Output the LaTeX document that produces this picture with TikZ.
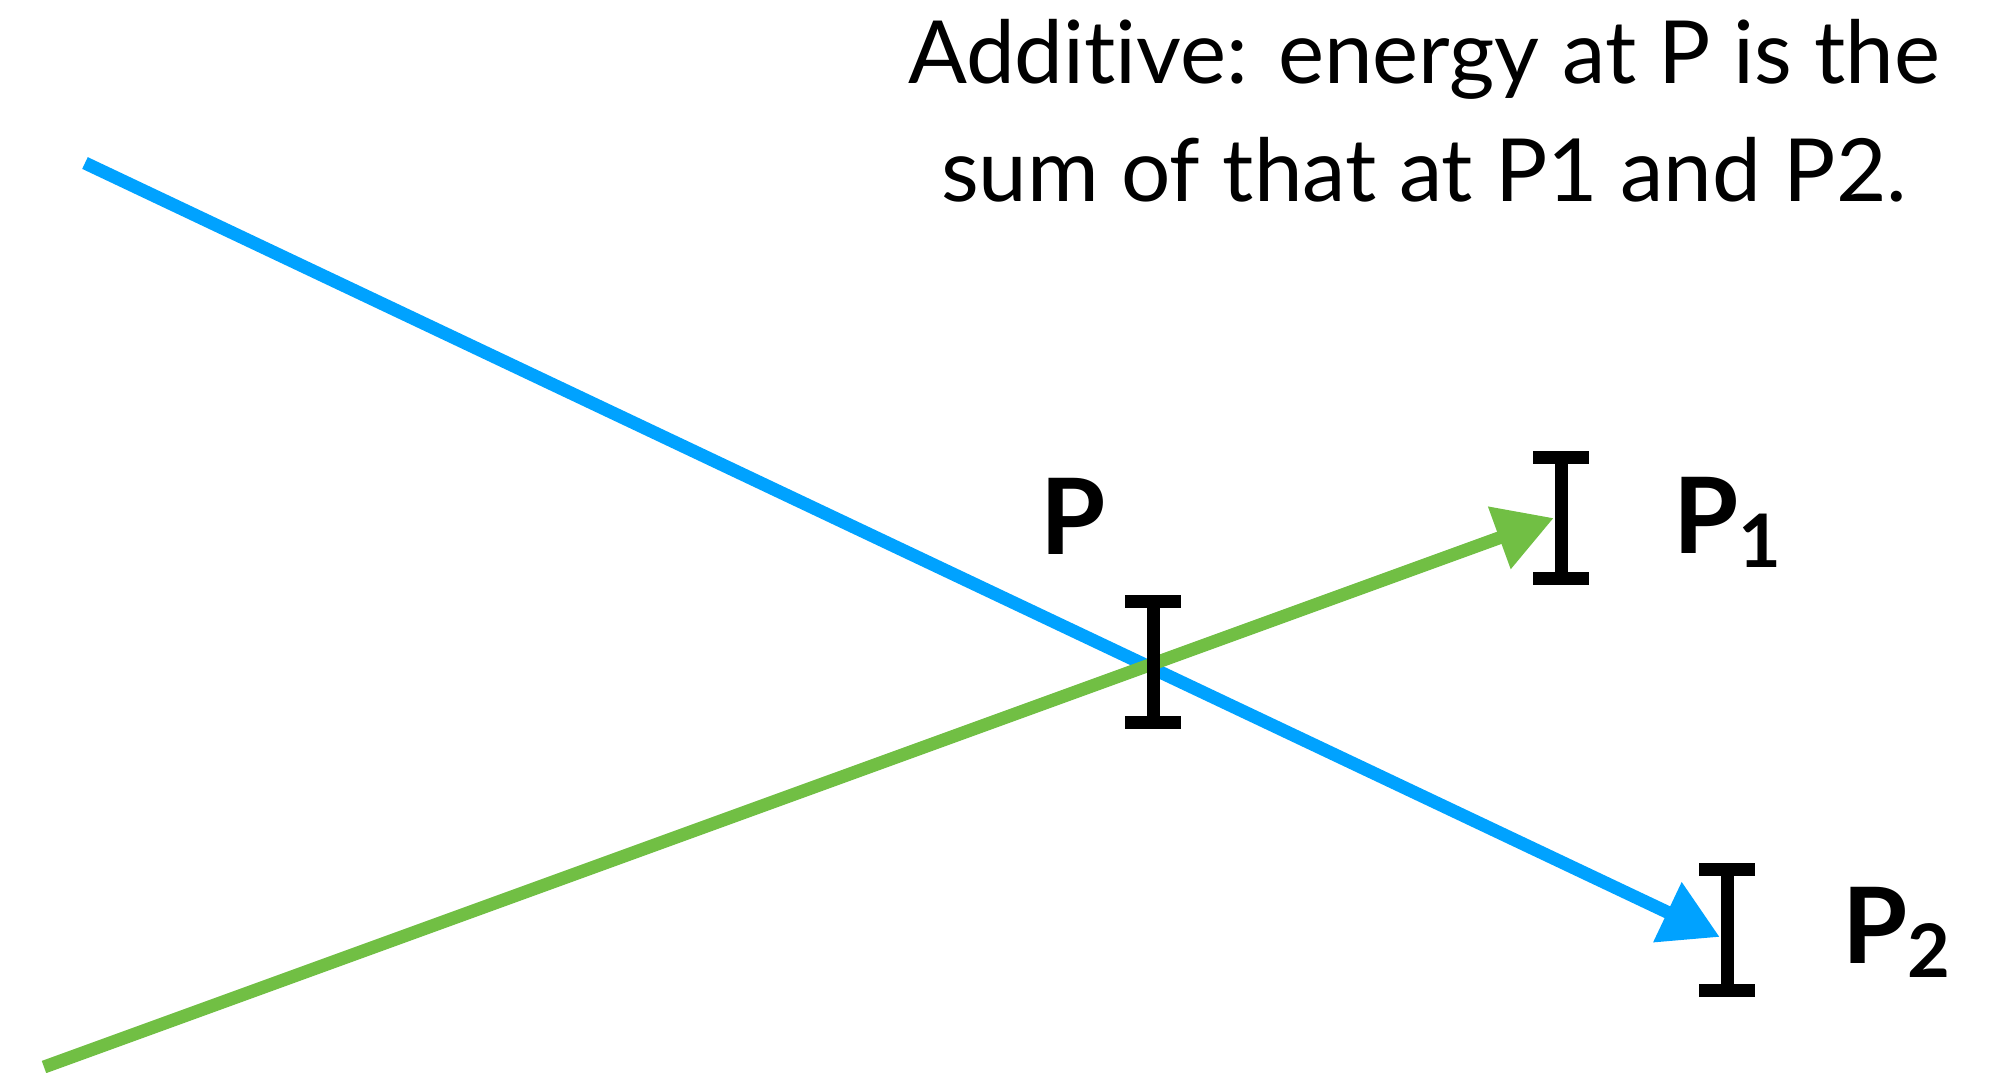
\documentclass[tikz,border=0pt]{standalone}
\usepackage{fontspec}
\setmainfont{Lato}[Ligatures=NoCommon]
\usetikzlibrary{arrows.meta, calc}

\definecolor{rayblue}{RGB}{0,162,255}
\definecolor{raygreen}{RGB}{113,191,68}

\newcommand{\lsub}[1]{\raisebox{-1.4mm}{\fontsize{21}{21}\selectfont #1}}

\begin{document}
\begin{tikzpicture}[
    x=0.1mm, y=-0.1mm,
    ray/.style={line width=1.3mm, -{Triangle[length=5.8mm, width=6.3mm]}},
    ibeam/.style={rectangle, fill=black, inner sep=0pt, minimum width=1.3mm, minimum height=13.3mm},
    point/.style={font=\fontsize{30}{30}\selectfont\bfseries, inner sep=0pt, anchor=base west},
    caption/.style={font=\fontsize{24.8}{33.3}\selectfont, align=center, inner sep=0pt}
]
    \useasboundingbox (0,0) rectangle (1998,1072);

    % Detectors
    \node[ibeam] (p1) at (1561,518) {};
    \node[ibeam] (p2) at (1727,930) {};

    % Ray starts
    \coordinate (bstart) at (85,163);
    \coordinate (gstart) at (44,1067);

    % Rays
    \draw[ray, rayblue] (bstart) -- ([yshift=-0.7mm]p2.west);
    \draw[ray, raygreen] (gstart) -- (p1.west);

    % Detector at the crossing
    \node[ibeam] (p) at (1153,662) {};

    % Bars of the detectors
    \foreach \n in {p, p1, p2} {
        \fill ([xshift=-2.05mm]\n.north west) rectangle ([xshift=2.05mm, yshift=-1.3mm]\n.north east);
        \fill ([xshift=-2.05mm, yshift=1.3mm]\n.south west) rectangle ([xshift=2.05mm]\n.south east);
    }

    % Labels
    \node[point] (lp) at (1040,554) {P};
    \node[point] (lp1) at (1673,553) {P\lsub{1}};
    \node[point] (lp2) at (1842,963) {P\lsub{2}};

    % Caption
    \node[caption, anchor=base] (note) at (1424,201) {Additive: energy at P is the\\sum of that at P1 and P2.};

\end{tikzpicture}
\end{document}
